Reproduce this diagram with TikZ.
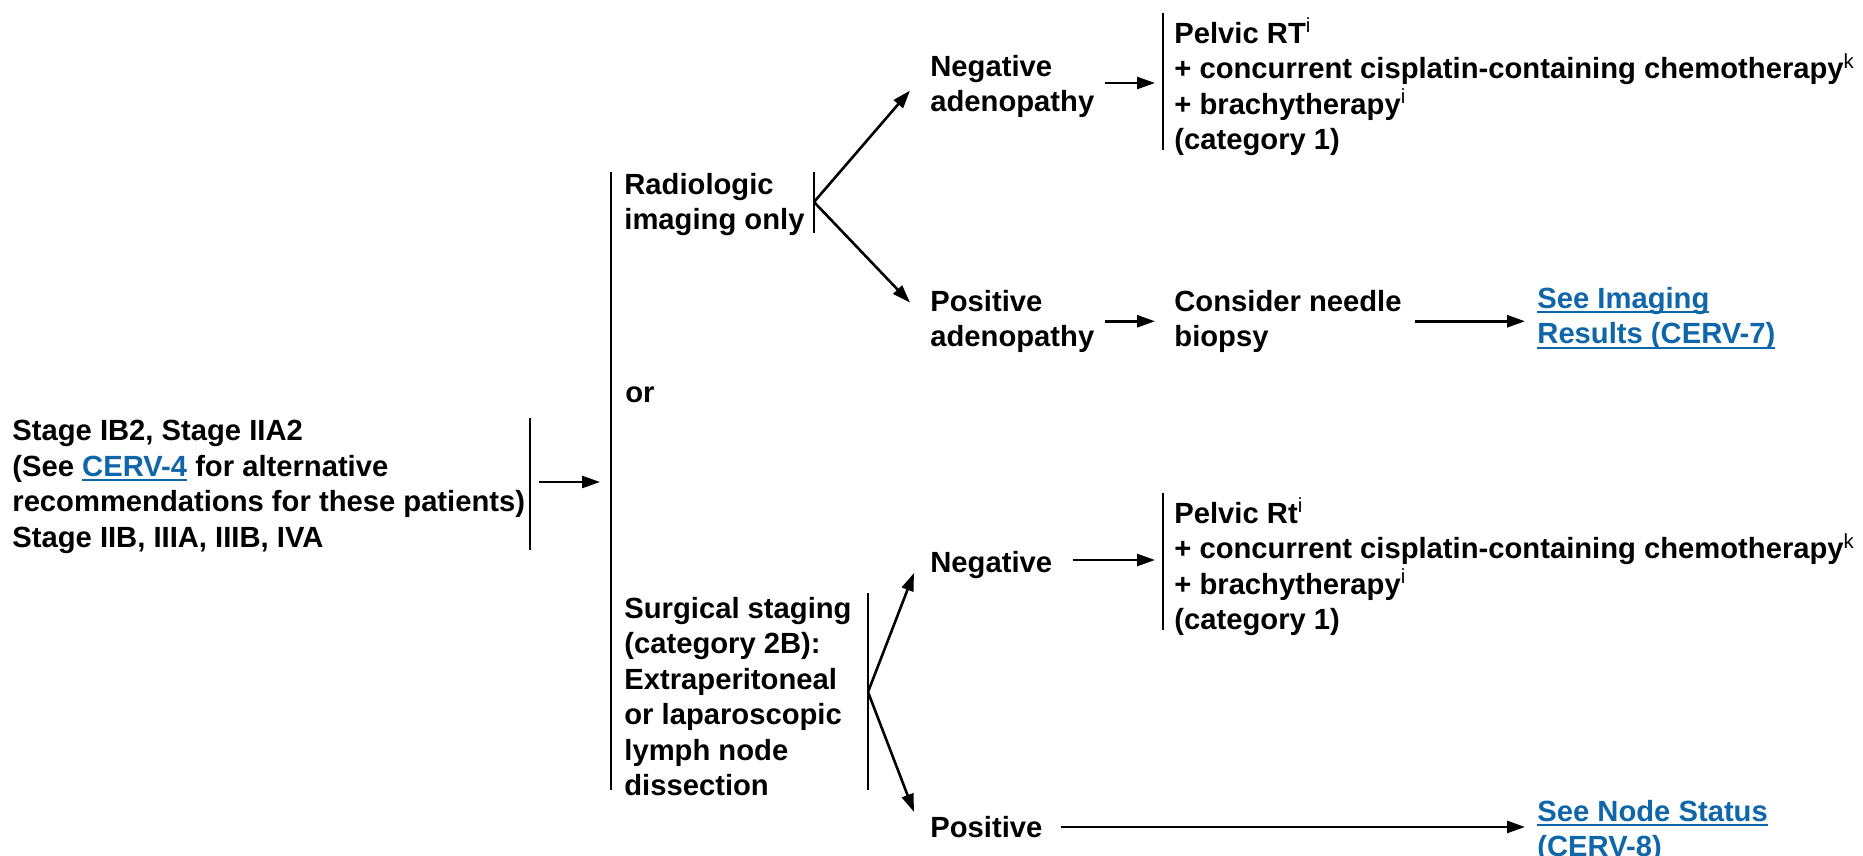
\documentclass[tikz,border=0pt]{standalone}
\usepackage{fontspec}
\setmainfont{Liberation Sans}
\usepackage{xcolor}
\usepackage{tikz}
\usetikzlibrary{arrows, arrows.meta}
\definecolor{WHITE}{HTML}{FFFFFF}
\definecolor{BLACK}{HTML}{000000}
\definecolor{LINK}{HTML}{0F66A8}
\newcommand*{\Link}[1]{\textcolor{LINK}{\setbox0\hbox{#1}\rlap{\rule[-2.5pt]{\wd0}{0.9pt}}\box0}}
\newcommand*{\Sup}[1]{\textsuperscript{\mdseries #1}}
\tikzset{
    txt/.style={BLACK, anchor=north west, align=left, inner sep=0pt, font=\fontsize{14.6}{17.75}\selectfont\bfseries},
    bar/.style={BLACK, line width=0.9pt},
    arr/.style={BLACK, line width=1.3pt, -{Triangle[length=9pt, width=6pt]}}
}

\begin{document}
\begin{tikzpicture}[x=0.5pt, y=-0.5pt]
    \useasboundingbox (0,0) rectangle (1863,856);
    % Nodes
    \node[txt] (stage) at (12,420) {Stage IB2, Stage IIA2\\(See \Link{CERV-4} for alternative\\recommendations for these patients)\\Stage IIB, IIIA, IIIB, IVA};
    \node[txt] (radio) at (624,172.5) {Radiologic\\imaging only};
    \node[txt, anchor=base west] (or) at (625,402.5) {or};
    \node[txt] (surg) at (624,596.5) {Surgical staging\\(category 2B):\\Extraperitoneal\\or laparoscopic\\lymph node\\dissection};
    \node[txt] (negad) at (930,54.5) {Negative\\adenopathy};
    \node[txt] (posad) at (930,289.5) {Positive\\adenopathy};
    \node[txt] (biopsy) at (1174,289.5) {Consider needle\\biopsy};
    \node[txt] (imaging) at (1537,286.5) {\Link{See Imaging}\\\Link{Results (CERV-7)}};
    \node[txt] (rt1) at (1174,17.5) {Pelvic RT\Sup{i}\\+ concurrent cisplatin-containing chemotherapy\Sup{k}\\+ brachytherapy\Sup{i}\\(category 1)};
    \node[txt, anchor=base west] (neg) at (930,572.4) {Negative};
    \node[txt] (rt2) at (1174,497.5) {Pelvic Rt\Sup{i}\\+ concurrent cisplatin-containing chemotherapy\Sup{k}\\+ brachytherapy\Sup{i}\\(category 1)};
    \node[txt, anchor=base west] (pos) at (930,837.4) {Positive};
    \node[txt] (status) at (1537,799.5) {\Link{See Node Status}\\\Link{(CERV-8)}};
    % Brackets
    \draw[bar] (530,418) -- (530,550);
    \draw[bar] (611,172) -- (611,790);
    \draw[bar] (814,172) -- (814,233);
    \draw[bar] (868,593) -- (868,790);
    \draw[bar] (1163,13) -- (1163,150);
    \draw[bar] (1163,493) -- (1163,630);
    % Branch points
    \coordinate (stagebar) at (530,482);
    \coordinate (mainbar) at (611,482);
    \coordinate (radiosplit) at (814,202);
    \coordinate (surgsplit) at (868,692);
    \coordinate (rtbar1) at (1163,83);
    \coordinate (rtbar2) at (1163,560);
    % Left arrow
    \draw[arr, shorten <=4.5pt, shorten >=5.5pt] (stagebar) -- (mainbar);
    % Radiologic arrows
    \draw[arr] (radiosplit) -- ([xshift=-10pt, yshift=-2.15pt]negad.west);
    \draw[arr] (radiosplit) -- ([xshift=-10pt, yshift=9.35pt]posad.west);
    \draw[arr, shorten <=5pt, shorten >=4pt] (rtbar1 -| negad.east) -- (rtbar1);
    \draw[arr, shorten <=5pt, shorten >=9.5pt] (posad.east) -- (biopsy.west);
    \draw[arr, shorten <=6.7pt, shorten >=6pt] (biopsy.east) -- (biopsy.east -| imaging.west);
    % Surgical arrows
    \draw[arr] (surgsplit) -- ([xshift=-8pt, yshift=-4pt]neg.west);
    \draw[arr] (surgsplit) -- ([xshift=-8pt, yshift=7.5pt]pos.west);
    \draw[arr, shorten <=10pt, shorten >=4pt] (rtbar2 -| neg.east) -- (rtbar2);
    \draw[arr, shorten <=9pt, shorten >=6pt] (pos.east) -- (pos.east -| status.west);
\end{tikzpicture}
\end{document}
